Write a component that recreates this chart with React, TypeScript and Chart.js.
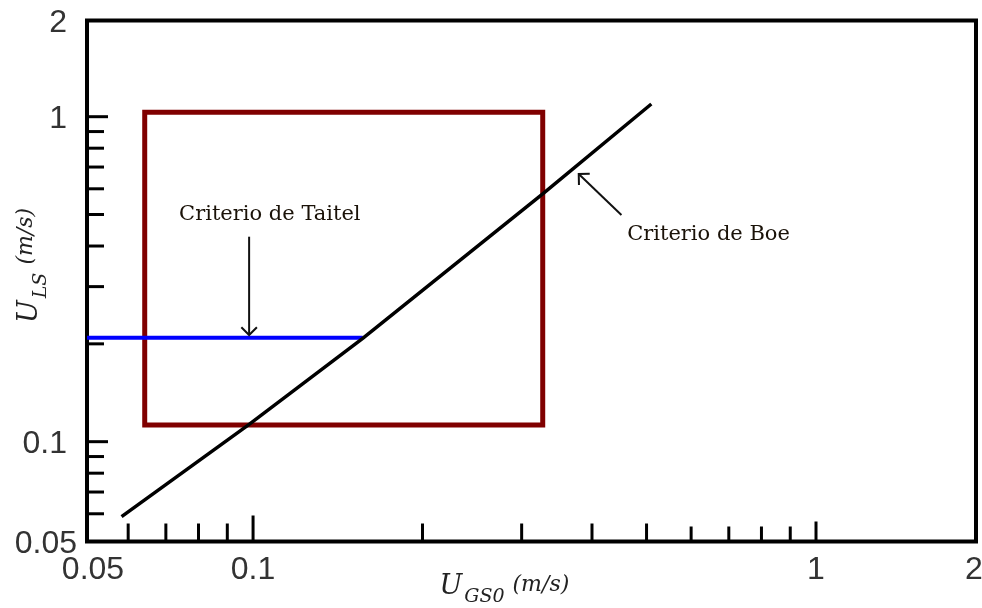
import React, { useEffect, useRef } from "react";
import { Chart, registerables } from "chart.js";

Chart.register(...registerables);

// axis bounds (values)
const xBounds = [0.0507, 1.924];
const yBounds = [0.0493, 1.977];

// Boe criterion (black line)
const boeX = [0.0584, 0.098, 0.1566, 0.327, 0.5099];
const boeY = [0.0588, 0.1125, 0.208, 0.5785, 1.094];

// Taitel criterion (blue line)
const taitelX = [0.0507, 0.1566];
const taitelY = [0.209, 0.209];

// rectangle (dark red)
const boxX = [0.0642, 0.327, 0.327, 0.0642, 0.0642];
const boxY = [1.032, 1.032, 0.1125, 0.1125, 1.032];

// tick marks
const xMinorTicks = [0.06, 0.07, 0.08, 0.09, 0.2, 0.3, 0.4, 0.5, 0.6, 0.7, 0.8, 0.9];
const xMajorTicks = [0.1, 1];
const yMinorTicks = [0.06, 0.07, 0.08, 0.09, 0.2, 0.3, 0.4, 0.5, 0.6, 0.7, 0.8, 0.9];
const yMajorTicks = [0.1, 1];

// tick labels
const xTickLabelValues = [0.0507, 0.1, 1, 1.924];
const xTickLabels = ["0.05", "0.1", "1", "2"];
const yTickLabelValues = [0.0493, 0.1, 1, 1.977];
const yTickLabels = ["0.05", "0.1", "1", "2"];

// annotations
const annotationTexts = ["Criterio de Taitel", "Criterio de Boe"];
const annotationX = [0.1071, 0.6443];
const annotationY = [0.4983, 0.4325];
const arrowFromX = [0.0984, 0.4512];
const arrowFromY = [0.4273, 0.4983];
const arrowToX = [0.0984, 0.3789];
const arrowToY = [0.213, 0.6664];

const pts = (xs: number[], ys: number[]) => xs.map((x, i) => ({ x, y: ys[i] }));

const decor = {
  id: "decor",
  beforeDatasetsDraw(chart: any) {
    const { ctx, chartArea: a, scales } = chart;
    const x = scales.x;
    const y = scales.y;
    ctx.save();
    ctx.strokeStyle = "#000";
    ctx.lineWidth = 3;
    ctx.lineCap = "butt";
    const xt = (v: number, len: number) => {
      const px = x.getPixelForValue(v);
      ctx.beginPath();
      ctx.moveTo(px, a.bottom);
      ctx.lineTo(px, a.bottom - len);
      ctx.stroke();
    };
    const yt = (v: number, len: number) => {
      const py = y.getPixelForValue(v);
      ctx.beginPath();
      ctx.moveTo(a.left, py);
      ctx.lineTo(a.left + len, py);
      ctx.stroke();
    };
    xMinorTicks.forEach((v) => xt(v, v < 0.55 ? 18 : 15));
    xMajorTicks.forEach((v) => xt(v, v < 0.5 ? 26 : 20));
    yMinorTicks.forEach((v) => yt(v, 17));
    yMajorTicks.forEach((v) => yt(v, 21));
    ctx.lineWidth = 4;
    ctx.strokeRect(a.left, a.top, a.right - a.left, a.bottom - a.top);
    ctx.restore();
  },
  afterDatasetsDraw(chart: any) {
    const { ctx, chartArea: a, scales } = chart;
    const x = scales.x;
    const y = scales.y;
    ctx.save();
    // arrows
    ctx.strokeStyle = "#111";
    ctx.lineWidth = 2;
    for (let i = 0; i < arrowFromX.length; i++) {
      const x0 = x.getPixelForValue(arrowFromX[i]);
      const y0 = y.getPixelForValue(arrowFromY[i]);
      const x1 = x.getPixelForValue(arrowToX[i]);
      const y1 = y.getPixelForValue(arrowToY[i]);
      ctx.beginPath();
      ctx.moveTo(x0, y0);
      ctx.lineTo(x1, y1);
      ctx.stroke();
      const ang = Math.atan2(y1 - y0, x1 - x0);
      const L = 11;
      ctx.beginPath();
      ctx.moveTo(x1 - L * Math.cos(ang - Math.PI / 4), y1 - L * Math.sin(ang - Math.PI / 4));
      ctx.lineTo(x1, y1);
      ctx.lineTo(x1 - L * Math.cos(ang + Math.PI / 4), y1 - L * Math.sin(ang + Math.PI / 4));
      ctx.stroke();
    }
    // annotation texts
    ctx.fillStyle = "#1a1208";
    ctx.font = '21px "DejaVu Serif"';
    ctx.textAlign = "center";
    ctx.textBaseline = "middle";
    annotationTexts.forEach((t, i) => {
      ctx.fillText(t, x.getPixelForValue(annotationX[i]), y.getPixelForValue(annotationY[i]));
    });
    // tick labels
    ctx.fillStyle = "#333";
    ctx.font = '32px "Liberation Sans"';
    ctx.textBaseline = "alphabetic";
    ctx.textAlign = "right";
    yTickLabels.forEach((t, i) => {
      const py = y.getPixelForValue(yTickLabelValues[i]);
      const rx = i === 0 ? a.left - 10 : a.left - 20;
      ctx.fillText(t, rx, py + 11);
    });
    ctx.textAlign = "center";
    xTickLabels.forEach((t, i) => {
      let px = x.getPixelForValue(xTickLabelValues[i]);
      if (i === 0) px += 6;
      if (i === xTickLabels.length - 1) px -= 2;
      ctx.fillText(t, px, a.bottom + 37);
    });
    // axis titles
    ctx.fillStyle = "#222";
    ctx.textAlign = "left";
    const cx = (a.left + a.right) / 2;
    // x title
    let tx = cx - 92;
    const by = a.bottom + 52;
    ctx.font = 'italic 27px "DejaVu Serif"';
    ctx.fillText("U", tx, by);
    tx += ctx.measureText("U").width + 2;
    ctx.font = 'italic 19px "DejaVu Serif"';
    ctx.fillText("GS0", tx, by + 8);
    tx += ctx.measureText("GS0").width + 8;
    ctx.font = 'italic 22px "DejaVu Serif"';
    ctx.fillText("(m/s)", tx, by - 3);
    // y title
    const cy = (a.top + a.bottom) / 2;
    ctx.translate(a.left - 50, cy + 42);
    ctx.rotate(-Math.PI / 2);
    let ty = 0;
    ctx.font = 'italic 27px "DejaVu Serif"';
    ctx.fillText("U", ty, 0);
    ty += ctx.measureText("U").width + 2;
    ctx.font = 'italic 19px "DejaVu Serif"';
    ctx.fillText("LS", ty, 9);
    ty += ctx.measureText("LS").width + 8;
    ctx.font = 'italic 22px "DejaVu Serif"';
    ctx.fillText("(m/s)", ty, -5);
    ctx.restore();
  },
};

export default function App() {
  const ref = useRef<HTMLCanvasElement | null>(null);
  useEffect(() => {
    if (!ref.current) return;
    const chart = new Chart(ref.current, {
      type: "scatter",
      data: {
        datasets: [
          {
            data: pts(boxX, boxY),
            showLine: true,
            borderColor: "#800000",
            borderWidth: 5,
            borderJoinStyle: "miter",
            borderCapStyle: "square",
            pointRadius: 0,
            order: 3,
          },
          {
            data: pts(taitelX, taitelY),
            showLine: true,
            borderColor: "#0000ff",
            borderWidth: 4,
            pointRadius: 0,
            order: 2,
          },
          {
            data: pts(boeX, boeY),
            showLine: true,
            borderColor: "#000000",
            borderWidth: 3.5,
            pointRadius: 0,
            order: 1,
          },
        ],
      },
      options: {
        animation: false,
        responsive: true,
        maintainAspectRatio: false,
        layout: { padding: { left: 87, right: 6, top: 20.5, bottom: 66.5 } },
        scales: {
          x: { type: "logarithmic", min: xBounds[0], max: xBounds[1], display: false },
          y: { type: "logarithmic", min: yBounds[0], max: yBounds[1], display: false },
        },
        plugins: { legend: { display: false }, tooltip: { enabled: false } },
        elements: { line: { tension: 0 } },
      },
      plugins: [decor],
    } as any);
    return () => chart.destroy();
  }, []);
  return (
    <div style={{ position: "absolute", left: 0, top: 0, width: 982, height: 608, background: "#fff" }}>
      <canvas ref={ref} />
    </div>
  );
}
